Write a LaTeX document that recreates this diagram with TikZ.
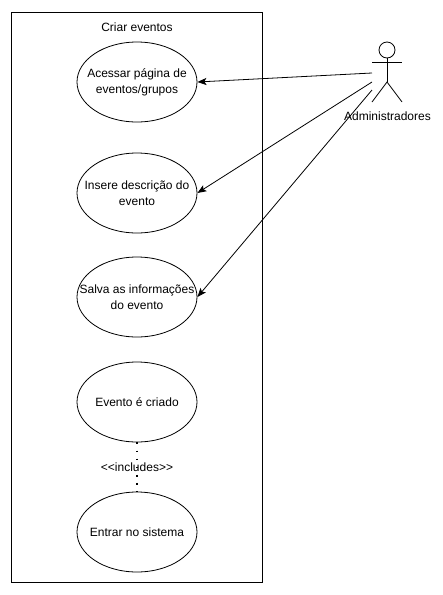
\documentclass[tikz,border=0pt]{standalone}
\usepackage{fontspec}
\setmainfont{Liberation Sans}
\usetikzlibrary{shapes.geometric,arrows.meta}
\tikzset{
  x=1pt,y=-1pt,
  usecase/.style={draw,ellipse,minimum width=120pt,minimum height=80pt,inner sep=0pt,line width=.8pt},
  assoc/.style={draw,line width=.8pt,-{Stealth[length=9pt,width=7pt,inset=2pt]}},
  actorline/.style={draw,line width=.8pt},
  txt/.style={font=\fontsize{12}{16}\selectfont,inner sep=0pt,align=center},
  every label/.style={txt},
  dotline/.style={draw,line width=1.7pt,dash pattern=on 1.7pt off 6.4pt}
}
\begin{document}
\begin{tikzpicture}[font=\fontsize{12}{16}\selectfont]
\useasboundingbox (0,0) rectangle (443,595);
\fill[white] (0,0) rectangle (443,595);
\node[draw,line width=.8pt,minimum width=251pt,minimum height=570pt,inner sep=0pt] (sys) at (136.5,297) {};
\node[txt] (title) at (137,27) {Criar eventos};
\node[usecase,label={center:{Acessar página de\\eventos/grupos}}] (e1) at (137,82) {};
\node[usecase,label={center:{Insere descrição do\\evento}}] (e2) at (137,193) {};
\node[usecase,label={center:{Salva as informações\\do evento}}] (e3) at (137,297) {};
\node[usecase,label={center:{Evento é criado}}] (e4) at (137,402) {};
\node[usecase,label={center:{Entrar no sistema}}] (e5) at (137,532) {};
\path[dotline] (e4.south) -- (e5.north);
\node[txt] (inc) at (137,467) {<{}<includes>{}>};
% actor
\node[draw,circle,line width=.8pt,minimum size=16pt,inner sep=0pt] (head) at (387,50) {};
\coordinate (hip) at (387,82);
\coordinate (armL) at (372,62);
\coordinate (armR) at (402,62);
\coordinate (legL) at (372,102);
\coordinate (legR) at (402,102);
\path[actorline] (head.south) -- (hip);
\path[actorline] (armL) -- (armR);
\path[actorline] (legL) -- (hip) -- (legR);
\node[txt] (actor) at (387.5,116) {Administradores};
\coordinate (a1) at (372,73);
\coordinate (a2) at (372,82);
\coordinate (a3) at (372,90);
\path[assoc] (a1) -- (e1.east);
\path[assoc] (a2) -- (e2.east);
\path[assoc] (a3) -- (e3.east);
\end{tikzpicture}
\end{document}
